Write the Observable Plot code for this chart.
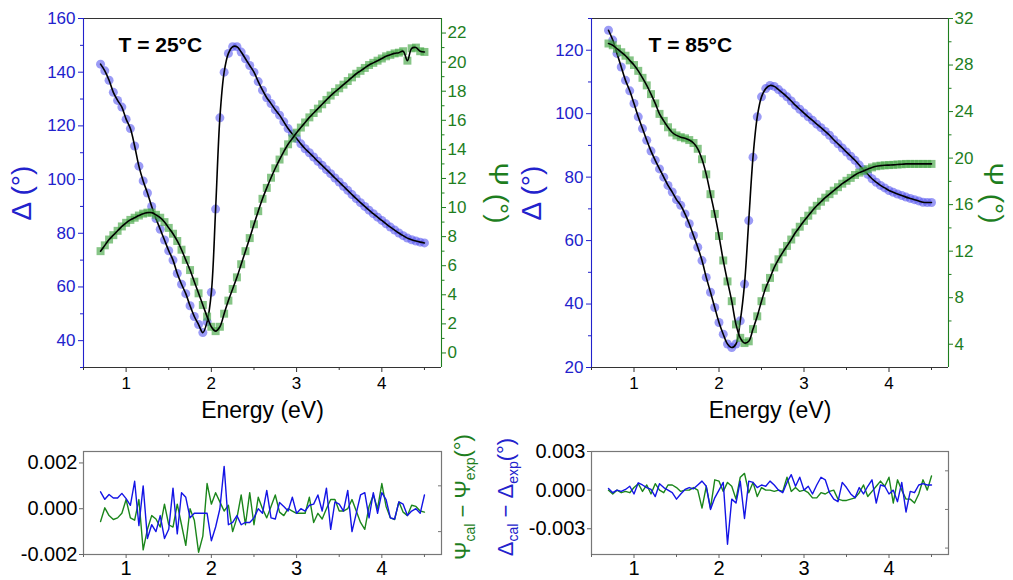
<!DOCTYPE html>
<html><head><meta charset="utf-8">
<script src="https://cdn.jsdelivr.net/npm/d3@7"></script>
<script src="https://cdn.jsdelivr.net/npm/@observablehq/plot@0.6"></script>
<style>
html,body{margin:0;padding:0;background:#fff;}
#chart{position:relative;width:1013px;height:580px;overflow:hidden;}
#chart svg{position:absolute;overflow:visible;}
</style></head><body><div id="chart"></div>
<script>
// ---------- data ----------
const energy = [0.70,0.75,0.80,0.85,0.90,0.95,1.00,1.05,1.10,1.15,1.20,1.25,1.30,1.35,1.40,1.45,1.50,1.55,1.60,1.65,1.70,1.75,1.80,1.85,1.90,1.95,2.00,2.05,2.10,2.15,2.20,2.25,2.30,2.35,2.40,2.45,2.50,2.55,2.60,2.65,2.70,2.75,2.80,2.85,2.90,2.95,3.00,3.05,3.10,3.15,3.20,3.25,3.30,3.35,3.40,3.45,3.50,3.55,3.60,3.65,3.70,3.75,3.80,3.85,3.90,3.95,4.00,4.05,4.10,4.15,4.20,4.25,4.30,4.35,4.40,4.45,4.50];

const delta25 = [143,140.5,137,132.5,129.5,127,122.5,119,112.5,105,99.5,95,90,85.5,81.5,77.5,73.5,70,65,61,57.5,53,49,46,43,47,58,89,123,140,147,149.5,149.5,147.5,145,142.5,140,136.5,133.3,130.5,128.3,126,124,121.5,119,117,115.3,113.3,111.5,110,108.4,106.8,105.3,103.7,102.2,100.6,99.1,97.5,96,94.4,92.9,91.4,90,88.6,87.3,86,84.8,83.5,82.3,81.2,80.1,79.1,78.2,77.6,77.1,76.7,76.4];
const psi25 = [7.0,7.4,7.8,8.1,8.4,8.7,8.95,9.15,9.3,9.45,9.58,9.65,9.65,9.5,9.3,9.0,8.6,8.2,7.7,7.1,6.4,5.7,4.9,4.1,3.3,2.5,1.8,1.5,1.8,2.7,3.6,4.4,5.2,6.1,7.0,7.9,8.85,9.75,10.6,11.35,12.05,12.7,13.3,13.85,14.35,14.75,15.15,15.5,15.85,16.2,16.5,16.8,17.1,17.4,17.7,17.95,18.2,18.45,18.7,18.95,19.2,19.4,19.6,19.8,19.95,20.1,20.25,20.4,20.5,20.6,20.65,20.75,20.1,20.95,21.0,20.75,20.7];
const delta85 = [126.3,123.2,119,114.7,110.5,107.2,103.2,99,95.3,91.6,88.2,85.3,82.6,80,77.4,75.3,72.9,71.1,68.4,65.3,61.6,57.9,53.7,48.4,43.7,38.9,34.2,30.5,27.4,26.3,27.4,34.7,46.3,66.3,86.3,99,105.3,107.9,108.9,108.6,107.6,106.5,105.3,104,102.6,101.4,100.2,99,97.9,96.7,95.6,94.4,93.2,91.8,90.5,89.2,87.9,86.6,85.3,83.8,82.3,80.9,79.5,78.4,77.4,76.6,75.8,75.2,74.7,74.2,73.7,73.3,72.9,72.5,72.1,72.0,72.0];
const psi85 = [29.85,29.7,29.4,29.1,28.8,28.4,28.0,27.5,26.9,26.25,25.5,24.7,23.8,23.2,22.65,22.2,21.95,21.8,21.7,21.55,21.3,20.8,19.9,18.6,16.9,15.2,13.3,11.2,9.4,7.7,5.7,4.55,4.1,4.25,5.3,6.4,7.7,8.85,9.7,10.6,11.3,11.9,12.45,13.0,13.6,14.1,14.6,15.05,15.5,15.9,16.25,16.6,16.9,17.2,17.5,17.8,18.05,18.3,18.55,18.75,18.9,19.05,19.2,19.3,19.35,19.38,19.4,19.42,19.45,19.47,19.5,19.5,19.5,19.5,19.5,19.5,19.5];

const resDelta25 = [0.00074,0.00041,0.00062,0.00047,0.00047,0.00067,0.00044,0.00015,0.0012,-0.00074,0.001,-0.0013,-0.0007,-0.001,-0.0003,-0.0013,-0.0009,0.0009,-0.0011,0.0007,0.0005,-0.0004,-0.0002,-0.0002,-0.0002,-0.0002,-0.0014,-0.0008,0,0.00185,-0.0007,-0.0006,-0.0003,-0.0007,-0.0006,-0.0006,-0.0004,0,-0.0002,0.0008,-0.0004,-0.00045,0.00027,0.0001,-0.0001,0.0005,-0.0002,0,-0.0001,0.00015,0.0002,0.0006,-0.0001,0.0009,-0.0009,0.0003,0.0002,-0.0001,0.0008,-0.001,-0.0002,0.0006,0.0007,-0.0004,0.0007,-0.0002,0.0007,0.0004,-0.0004,-0.00045,0.0003,0.0002,-0.0003,-0.0001,0,-0.0002,0.0006];
const resPsi25 = [-0.00056,0.00004,-0.0003,-0.00047,-0.0004,-0.0002,0.0004,-0.0004,-0.0005,0.0004,-0.0018,-0.0009,-0.0003,-0.00045,-0.0008,0.0002,-0.0007,-0.0008,0.0002,-0.0007,-0.0016,0,-0.0005,-0.0019,-0.0012,0.0011,0.0002,0.0007,0.0003,-0.0001,0.00015,-0.001,-0.0004,0.0006,-0.0007,0.0007,-0.0007,0.0005,0,-0.0004,0.0001,0.0006,-0.00015,-0.0003,0,-0.0001,-0.0002,-0.0002,-0.0002,0.0005,-0.0006,-0.0002,-0.00045,0,0.0004,0.0004,-0.0001,-0.0001,0,0.0004,-0.0001,-0.0006,-0.0009,0.0001,0.0006,0,0.0011,0.0001,-0.0004,-0.00047,0.0003,-0.00015,-0.0003,0.00015,0.0001,-0.0001,-0.00015];
const resDelta85 = [0.00013,-0.0002,0,-0.0001,0.00005,0.0003,-0.0003,0.00057,0.0004,0.0002,0.00005,-0.0005,0.0005,0.0002,0,-0.0002,-0.0007,-0.0003,0.00005,0.0002,0.0001,0.0004,0.0007,0.0003,-0.0015,-0.0006,0,0.0006,-0.0042,-0.0007,-0.001,0.0007,-0.0022,0.0007,0.0006,0.0002,0.0004,0.0003,0.0007,0.0004,0,-0.0002,0.0006,0.0012,0.0003,0.001,0,0.0003,-0.0003,0.0004,0.001,0.0008,-0.0002,-0.0007,-0.0009,0.0006,0.0002,-0.0003,-0.0006,0.0002,-0.0003,0.0003,0.0008,-0.001,0.0004,0.0003,-0.0003,0,-0.0009,0.0006,-0.0017,-0.0001,-0.0002,0.0004,0.0005,0.0004,0.0004];
const resPsi85 = [0,-0.0003,0,-0.0002,-0.0001,-0.0002,0.0002,0.0005,-0.0001,0.0004,-0.0003,0.0005,0,-0.0002,0.0004,0.0004,0.0002,-0.0001,0,0,0.0002,0,-0.0014,0.0003,-0.0014,0.0008,0.0007,-0.0001,0.0006,0.0003,-0.0007,0.001,0.0013,-0.0002,0.0006,-0.0005,0.0002,0,0,-0.0001,0,-0.0001,0.001,-0.0001,0.0002,-0.0001,0,-0.0002,-0.0006,-0.0006,-0.0002,-0.0003,-0.0001,0,-0.0007,-0.0008,-0.0008,-0.0007,-0.0006,-0.0002,0.0004,-0.0005,-0.0001,0.0003,0.0007,0.0003,0.001,-0.001,0.0008,0,-0.0007,-0.0007,-0.001,-0.0003,0.0008,0,0.0011];

// ticks
const xMajorTicks = [1,2,3,4];
const xMinorTicks = [0.5,1.5,2.5,3.5,4.5];
const delta25Ticks = [40,60,80,100,120,140,160];
const delta25Minor = [30,50,70,90,110,130,150];
const psi25Ticks = [0,2,4,6,8,10,12,14,16,18,20,22];
const psi25Minor = [1,3,5,7,9,11,13,15,17,19,21];
const delta85Ticks = [20,40,60,80,100,120];
const delta85Minor = [30,50,70,90,110,130];
const psi85Ticks = [4,8,12,16,20,24,28,32];
const psi85Minor = [6,10,14,18,22,26,30];
const res25Ticks = [-0.002,0,0.002];
const res25Minor = [-0.001,0.001];
const res85Ticks = [-0.003,0,0.003];
const res85Minor = [-0.0045,-0.0015,0.0015];

// ---------- styling ----------
const FONT = '"Liberation Sans", Arial, sans-serif';
const BLUE_TXT = "#2222cc", GREEN_TXT = "#1e7e1e";
const BLUE_DOT = "#5858f0", GREEN_DOT = "#45a645";
const BLUE_LINE = "#1414e6", GREEN_LINE = "#1b861b";
const xDomain = [0.5, 4.7];
const chart = document.getElementById("chart");

function rows(ys){ return energy.map((e,i)=>({e, v: ys[i]})); }
function place(svg, left, top){
  svg.style.position = "absolute"; svg.style.left = left+"px"; svg.style.top = top+"px";
  chart.appendChild(svg); return svg;
}
const baseStyle = {background:"none", fontFamily: FONT, fontSize:"17px", overflow:"visible", color:"black"};

function topPanel(o){
  const common = {width:o.width, height:430, marginLeft:o.mL, marginRight:o.mR, marginTop:18, marginBottom:63, style: baseStyle};
  const a = Plot.plot({...common,
    x:{domain:xDomain, label:null}, y:{domain:o.dDomain, label:null},
    marks:[
      Plot.ruleY([o.dDomain[0], o.dDomain[1]], {stroke:"#333", strokeWidth:1.1}),
      Plot.ruleX([xDomain[0]], {stroke:BLUE_TXT, strokeWidth:1.1}),
      Plot.axisX(xMajorTicks, {tickSize:5, tickPadding:4, tickFormat:d=>String(d), stroke:"#333", fill:"black", fontSize:17, label:null}),
      Plot.axisX(xMinorTicks, {tickSize:3, fill:"none", stroke:"#333", label:null}),
      Plot.axisY(o.dMajor, {anchor:"left", tickSize:5, tickPadding:3, stroke:BLUE_TXT, fill:BLUE_TXT, fontSize:17, label:null}),
      Plot.axisY(o.dMinor, {anchor:"left", tickSize:3, fill:"none", stroke:BLUE_TXT, label:null}),
      Plot.dot(rows(o.delta), {x:"e", y:"v", r:4.5, fill:BLUE_DOT, fillOpacity:0.6}),
      Plot.line(rows(o.delta), {x:"e", y:"v", stroke:"black", strokeWidth:1.6, curve:"catmull-rom"}),
      Plot.text([o.title], {frameAnchor:"top-left", dx:o.titleDx, dy:27, fontWeight:"bold", fontSize:21, lineAnchor:"middle", textAnchor:"start", fill:"black"}),
      Plot.text(["Energy (eV)"], {frameAnchor:"bottom", dy:43, fontSize:23, lineAnchor:"middle", textAnchor:"middle", fill:"black"}),
      Plot.text(["Δ (°)"], {frameAnchor:"left", dx:o.dLabelDx, rotate:-90, fontSize:28, textAnchor:"middle", lineAnchor:"middle", fill:BLUE_TXT})
    ]});
  const b = Plot.plot({...common,
    x:{domain:xDomain, label:null, axis:null}, y:{domain:o.pDomain, label:null},
    marks:[
      Plot.ruleX([xDomain[1]], {stroke:GREEN_TXT, strokeWidth:1.1}),
      Plot.axisY(o.pMajor, {anchor:"right", tickSize:4, tickPadding:2, stroke:GREEN_TXT, fill:GREEN_TXT, fontSize:17, label:null}),
      Plot.axisY(o.pMinor, {anchor:"right", tickSize:2.5, fill:"none", stroke:GREEN_TXT, label:null}),
      Plot.dot(rows(o.psi), {x:"e", y:"v", r:4.5, symbol:"square", fill:GREEN_DOT, fillOpacity:0.65}),
      Plot.line(rows(o.psi), {x:"e", y:"v", stroke:"black", strokeWidth:1.6, curve:"catmull-rom"}),
      Plot.text(["Ψ (°)"], {frameAnchor:"right", dx:o.pLabelDx, rotate:90, fontSize:28, textAnchor:"middle", lineAnchor:"middle", fill:GREEN_TXT})
    ]});
  place(a, o.left, 0); place(b, o.left, 0);
}

function resPanel(o){
  const p = Plot.plot({width:o.width, height:150, marginLeft:o.mL, marginRight:o.mR, marginTop:21, marginBottom:26,
    style:{...baseStyle, fontSize:"20px"},
    x:{domain:xDomain, label:null}, y:{domain:o.yDomain, label:null},
    marks:[
      Plot.frame({stroke:"#777", strokeWidth:1.2}),
      Plot.axisX(xMajorTicks, {tickSize:4, tickPadding:2, tickFormat:d=>String(d), stroke:"#666", fill:"black", fontSize:20, label:null}),
      Plot.axisX(xMinorTicks, {tickSize:3, fill:"none", stroke:"#666", label:null}),
      Plot.axisY(o.yMajor, {anchor:"left", tickSize:4, tickPadding:2, tickFormat:d=>d.toFixed(3), stroke:"#666", fill:"black", fontSize:20, label:null}),
      Plot.axisY(o.yMinor, {anchor:"right", tickSize:-4, fill:"none", stroke:"#777", label:null}),
      Plot.line(rows(o.resPsi), {x:"e", y:"v", stroke:GREEN_LINE, strokeWidth:1.4}),
      Plot.line(rows(o.resDelta), {x:"e", y:"v", stroke:BLUE_LINE, strokeWidth:1.4})
    ]});
  return place(p, o.left, 430);
}

topPanel({left:0, width:510, mL:83, mR:69, dDomain:[30,160], pDomain:[-1,23],
  dMajor:delta25Ticks, dMinor:delta25Minor, pMajor:psi25Ticks, pMinor:psi25Minor,
  delta:delta25, psi:psi25, title:"T = 25°C", titleDx:35, dLabelDx:-61, pLabelDx:56});
topPanel({left:505, width:508, mL:86, mR:65, dDomain:[20,130], pDomain:[2,32],
  dMajor:delta85Ticks, dMinor:delta85Minor, pMajor:psi85Ticks, pMinor:psi85Minor,
  delta:delta85, psi:psi85, title:"T = 85°C", titleDx:57, dLabelDx:-59, pLabelDx:44});

const bl = resPanel({left:0, width:510, mL:83, mR:69, yDomain:[-0.002,0.0025], yMajor:res25Ticks, yMinor:res25Minor, resDelta:resDelta25, resPsi:resPsi25});
resPanel({left:505, width:508, mL:86, mR:65, yDomain:[-0.005,0.003], yMajor:res85Ticks, yMinor:res85Minor, resDelta:resDelta85, resPsi:resPsi85});

// residual axis titles with subscripts
function subLabel(svg, x, y, sym, color){
  const t = d3.select(svg).append("text")
    .attr("transform", `translate(${x},${y}) rotate(-90)`)
    .attr("text-anchor","middle").attr("fill", color)
    .style("font-family", FONT).style("font-size","22px");
  t.append("tspan").text(sym);
  t.append("tspan").attr("font-size","14px").attr("dy",5).text("cal");
  t.append("tspan").attr("dy",-5).text(" − " + sym);
  t.append("tspan").attr("font-size","14px").attr("dy",5).text("exp");
  t.append("tspan").attr("dy",-5).text("(°)");
}
subLabel(bl, 470, 67, "Ψ", GREEN_TXT);
subLabel(bl, 513, 67, "Δ", BLUE_TXT);
</script></body></html>
